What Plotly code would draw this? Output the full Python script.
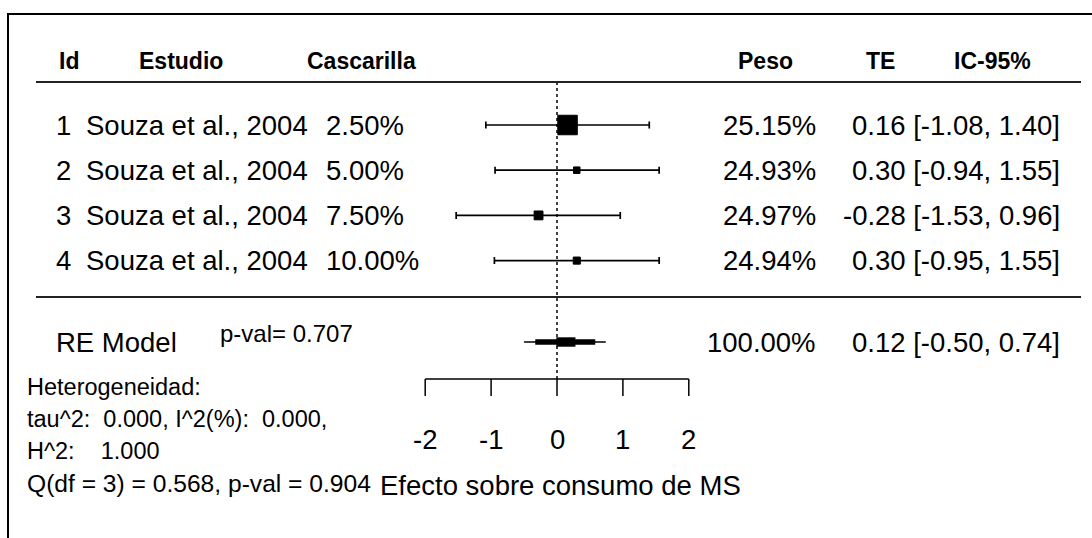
import plotly.graph_objects as go

# ---------------- data ----------------
ids = [1, 2, 3, 4]
studies = ["Souza et al., 2004"] * 4
cascarilla = ["2.50%", "5.00%", "7.50%", "10.00%"]
weights = [25.15, 24.93, 24.97, 24.94]
te = [0.16, 0.30, -0.28, 0.30]
ci_lo = [-1.08, -0.94, -1.53, -0.95]
ci_hi = [1.40, 1.55, 0.96, 1.55]

re_weight = 100.00
re_te = 0.12
re_lo = -0.50
re_hi = 0.74
re_mid_lo = -0.33
re_mid_hi = 0.58
re_box_lo = -0.01
re_box_hi = 0.28
re_pval = 0.707

x_ticks = [-2, -1, 0, 1, 2]
headers = ["Id", "Estudio", "Cascarilla", "Peso", "TE", "IC-95%"]
stats_lines = [
    "Heterogeneidad:",
    "tau^2:  0.000, I^2(%):  0.000,",
    "H^2:    1.000",
    "Q(df = 3) = 0.568, p-val = 0.904",
]
x_label = "Efecto sobre consumo de MS"

# ---------------- layout geometry (pixels) ----------------
W, H = 1092, 538
X0_PX, UNIT_PX = 557.0, 65.9          # pixel of effect 0, pixels per unit
FONT = "Liberation Sans, Arial, sans-serif"


def px2x(px):
    return (px - X0_PX) / UNIT_PX


HEADER_Y = 61
HEADER_LINE_Y = 82
ROW_Y0, ROW_GAP = 125, 45.2
SEP_Y = 297
RE_Y = 342
PVAL_Y = 333
AXIS_Y = 379
TICK_LEN = 17
TICKLAB_Y = 439
STATS_Y0, STATS_GAP = 387, 32
XLAB_Y = 485

row_y = [ROW_Y0 + i * ROW_GAP for i in range(len(ids))]

fig = go.Figure()

# marker sizes scaled from weights (as metafor does)
wmin, wmax = min(weights), max(weights)
msize = [6.5 + (w - wmin) / (wmax - wmin) * 13 for w in weights]

# CI lines with caps + squares
fig.add_trace(go.Scatter(
    x=te, y=row_y, mode="markers",
    marker=dict(symbol="square", size=msize, color="#000000", opacity=1,
                line=dict(width=1, color="#000000")),
    error_x=dict(type="data", symmetric=False,
                 array=[h - t for h, t in zip(ci_hi, te)],
                 arrayminus=[t - l for t, l in zip(te, ci_lo)],
                 color="#000000", thickness=1.7, width=3.5),
    hoverinfo="skip",
))

# summary (RE model): thin CI line
fig.add_trace(go.Scatter(x=[re_lo, re_hi], y=[RE_Y, RE_Y], mode="lines",
                         line=dict(color="black", width=1.7), hoverinfo="skip"))

shapes = []
# medium and thick parts of summary
shapes.append(dict(type="rect", xref="x", yref="y", x0=re_mid_lo, x1=re_mid_hi,
                   y0=RE_Y - 2.7, y1=RE_Y + 2.7, fillcolor="black", line=dict(width=0)))
shapes.append(dict(type="rect", xref="x", yref="y", x0=re_box_lo, x1=re_box_hi,
                   y0=RE_Y - 4.7, y1=RE_Y + 4.7, fillcolor="black", line=dict(width=0)))

# dotted reference line at 0
shapes.append(dict(type="line", xref="x", yref="y", x0=0, x1=0,
                   y0=HEADER_LINE_Y, y1=AXIS_Y,
                   line=dict(color="black", width=1.5, dash="dot")))

# header and separator lines
for yy in (HEADER_LINE_Y, SEP_Y):
    shapes.append(dict(type="line", xref="x", yref="y", x0=px2x(36), x1=px2x(1081),
                       y0=yy, y1=yy, line=dict(color="#222222", width=2)))

# outer box (extends past right/bottom edges)
shapes.append(dict(type="rect", xref="x", yref="y", x0=px2x(8), x1=px2x(1110),
                   y0=14, y1=560, line=dict(color="black", width=2), fillcolor="rgba(0,0,0,0)"))

# x axis
shapes.append(dict(type="line", xref="x", yref="y", x0=min(x_ticks), x1=max(x_ticks),
                   y0=AXIS_Y, y1=AXIS_Y, line=dict(color="black", width=1.5)))
for t in x_ticks:
    shapes.append(dict(type="line", xref="x", yref="y", x0=t, x1=t,
                       y0=AXIS_Y, y1=AXIS_Y + TICK_LEN, line=dict(color="black", width=1.5)))

ann = []


def txt(x_px, y, s, size, anchor="left", bold=False):
    ann.append(dict(x=px2x(x_px), y=y, xref="x", yref="y", text=("<b>%s</b>" % s) if bold else s,
                    showarrow=False, xanchor=anchor, yanchor="middle",
                    font=dict(family=FONT, size=size, color="black")))


def txt_x(xv, y, s, size, anchor="center"):
    ann.append(dict(x=xv, y=y, xref="x", yref="y", text=s, showarrow=False,
                    xanchor=anchor, yanchor="middle",
                    font=dict(family=FONT, size=size, color="black")))


# headers
HS = 23
txt(57, HEADER_Y, headers[0], HS, bold=True)
txt(137, HEADER_Y, headers[1], HS, bold=True)
txt(305, HEADER_Y, headers[2], HS, bold=True)
txt(765, HEADER_Y, headers[3], HS, "center", bold=True)
txt(880, HEADER_Y, headers[4], HS, "center", bold=True)
txt(992, HEADER_Y, headers[5], HS, "center", bold=True)

RS = 27.5
for i in range(len(ids)):
    y = row_y[i]
    txt(54, y, str(ids[i]), RS)
    txt(84, y, studies[i], RS)
    txt(324, y, cascarilla[i], RS)
    txt(818, y, "%.2f%%" % weights[i], RS, "right")
    txt(1062, y, "%.2f [%.2f, %.2f]" % (te[i], ci_lo[i], ci_hi[i]), RS, "right")

# RE model row
txt(54, RE_Y, "RE Model", RS)
txt(218, PVAL_Y, "p-val= %.3f" % re_pval, 24)
txt(818, RE_Y, "%.2f%%" % re_weight, RS, "right")
txt(1062, RE_Y, "%.2f [%.2f, %.2f]" % (re_te, re_lo, re_hi), RS, "right")

# heterogeneity stats
for k, s in enumerate(stats_lines):
    size = 24.6 if s.startswith("Q(") else 23.5
    txt(25, STATS_Y0 + k * STATS_GAP, s.replace("  ", "&nbsp; "), size)

# tick labels and x label
for t in x_ticks:
    txt_x(t, TICKLAB_Y, str(t), RS)
txt_x(0.05, XLAB_Y, x_label, RS)

fig.update_layout(
    width=W, height=H,
    margin=dict(l=0, r=0, t=0, b=0),
    paper_bgcolor="white", plot_bgcolor="white",
    showlegend=False,
    xaxis=dict(range=[px2x(0), px2x(W)], visible=False, fixedrange=True),
    yaxis=dict(range=[H, 0], visible=False, fixedrange=True),
    shapes=shapes, annotations=ann,
)

fig.write_html("out.html")
